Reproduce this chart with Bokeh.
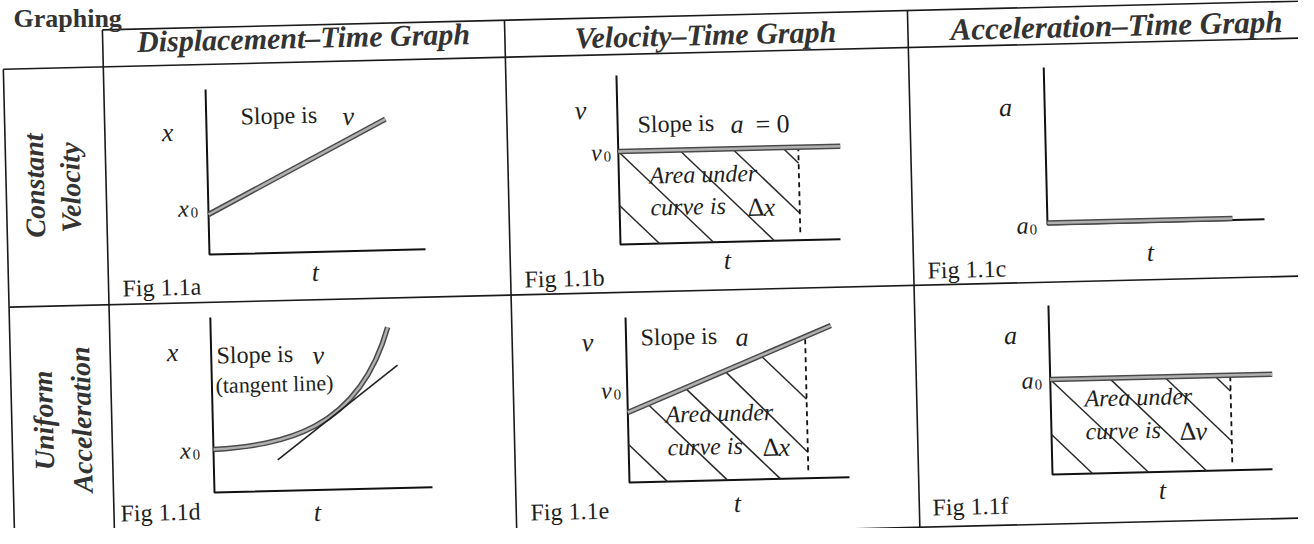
import numpy as np
from bokeh.plotting import figure
from bokeh.models import Range1d
from bokeh.core.properties import value
from bokeh.embed import file_html
from bokeh.resources import INLINE

TILT = 0.024          # the scanned page is turned slightly
SERIF = "Liberation Serif"

# ---------------- text content ----------------
page_title = "Graphing"
column_titles = ["Displacement\u2013Time Graph", "Velocity\u2013Time Graph", "Acceleration\u2013Time Graph"]
row_titles = [["Constant", "Velocity"], ["Uniform", "Acceleration"]]
fig_names = ["Fig 1.1a", "Fig 1.1b", "Fig 1.1c", "Fig 1.1d", "Fig 1.1e", "Fig 1.1f"]
y_symbols = ["x", "v", "a", "x", "v", "a"]
t_symbol = "t"
zero_sub = "0"
slope_text = "Slope is"
slope_symbols = ["v", "a", "v", "a"]          # panels a, b, d, e
tangent_text = "(tangent line)"
area_text = ["Area under", "curve is"]
area_symbols = ["x", "x", "v"]                 # panels b, e, f  (after a Delta)

# ---------------- graph data (local units: time right, value up) ----------------
axis_len_t = [216, 220, 217, 218, 220, 220]
axis_len_y = [165, 169, 157, 175, 165, 169]
value_lines = {            # [t0, v0, t1, v1]
    0: [0, 40, 179, 131],
    1: [0, 93, 222, 93],
    2: [0, 1.5, 185, 1.5],
    4: [0, 70, 205, 152],
    5: [0, 95, 222, 95],
}
curve_d = [(0, 43), (69, 46), (145, 57), (177, 161)]   # start, ctrl1, ctrl2, end
tangent_d = [64, 31, 186, 123]
dash_lines = {1: [180, 8, 93], 4: [179, 8, 142], 5: [180, 8, 95]}   # t, bottom, top
hatch = {
    1: [[0, 39, 39, 0], [0, 93, 93, 0], [61, 93, 154, 0], [114, 93, 180, 27], [164, 93, 180, 77]],
    4: [[0, 38, 38, 0], [20, 78, 98, 0], [58, 93, 151, 0], [98, 109, 179, 26], [134, 124, 179, 79]],
    5: [[0, 40, 40, 0], [0, 95, 96, 0], [59, 95, 154, 0], [114, 95, 180, 29], [164, 95, 180, 79]],
}

# ---------------- layout (page pixels) ----------------
panel_origin = [(217, 262), (628, 252), (1055, 232), (222, 500), (637, 490), (1060, 482)]
h_rules = [(28, 109, 1320), (65, 9, 1320), (303, 9, 1320), (545, 9, 1320)]   # y at x=500, from col, to x
v_rules = [(9, 65), (109, 28), (511.3, 28), (914.5, 28)]                    # x at y=0, starting rule
title_pos = (21, 11)
col_title_pos = [(311, 45), (713, 42), (1124, 33)]
col_title_size = [30, 30, 31]
row_title_pos = [[(42, 193), (78, 195)], [(51, 428), (89, 427)]]
fig_name_pos = [(130, 296), (532, 287), (935, 278), (128, 521), (538, 520), (940, 515)]
y_sym_pos = [(175, 140), (588, 118), (1013, 115), (180, 360), (595, 350), (1018, 343)]
sub_sym_pos = [(191, 216), (604, 160), (1030, 233), (193, 458), (614, 398), (1035, 388)]
t_pos = [(323, 280), (735, 268), (1158, 260), (325, 520), (745, 511), (1170, 498)]
slope_pos = [(248, 124, 350), (645, 132, 738), (224, 363, 320), (648, 345, 743)]
eq_zero_pos = (763, 132)
tangent_pos = (223, 393)
area_pos = [(657, 183, 658, 215, 755), (673, 422, 675, 455, 770), (1092, 406, 1093, 439, 1187)]

p = figure(width=1298, height=528, x_range=Range1d(8, 1306), y_range=Range1d(536, 8),
           output_backend="svg", toolbar_location=None, min_border=0)
p.xaxis.visible = False
p.yaxis.visible = False
p.xgrid.visible = False
p.ygrid.visible = False
p.outline_line_color = None
p.background_fill_color = "white"
p.border_fill_color = "white"


def T(o, u, w):
    ox, oy = o
    u = np.asarray(u, float)
    w = np.asarray(w, float)
    return ox + u - TILT * w, oy - TILT * u - w


def hy(y500, x):
    return y500 - TILT * (x - 500)


def meet(c, y500):
    x = (c + TILT * y500 + TILT * TILT * 500) / (1 + TILT * TILT)
    return x, hy(y500, x)


# table rules
for y500, vstart, xend in h_rules:
    c = [v for v in v_rules if v[0] == vstart][0][0]
    x0, y0 = meet(c, y500)
    p.line([x0, xend], [y0, hy(y500, xend)], line_color="#1a1a1a", line_width=1.6)
for c, hstart in v_rules:
    xs, ys = meet(c, [h for h in h_rules if h[0] == hstart][0][0])
    xe, ye = meet(c, h_rules[-1][0])
    p.line([xs, xe], [ys, ye], line_color="#1a1a1a", line_width=1.6)


def txt(s, x, y, size, style="normal", align="left", angle=0.0, color="#1e1e1e", base="middle"):
    p.text(x=[x], y=[y], text=[s], angle=TILT + angle, text_font=value(SERIF),
           text_font_size=f"{size}px", text_font_style=style, text_align=align,
           text_baseline=base, text_color=color)


# graphs
for i, o in enumerate(panel_origin):
    ax, ay = T(o, [0, 0, axis_len_t[i]], [axis_len_y[i], 0, 0])
    p.line(ax, ay, line_color="#111111", line_width=2)
    if i in hatch:
        for t0, v0, t1, v1 in hatch[i]:
            hx, hyy = T(o, [t0, t1], [v0, v1])
            p.line(hx, hyy, line_color="#2a2a2a", line_width=1.5)
    if i in dash_lines:
        t, b, top = dash_lines[i]
        dx, dy = T(o, [t, t], [b, top])
        p.line(dx, dy, line_color="#111111", line_width=1.8, line_dash="5 4")
    if i in value_lines:
        t0, v0, t1, v1 = value_lines[i]
        lx, ly = T(o, [t0, t1], [v0, v1])
        p.line(lx, ly, line_color="#4a4a4a", line_width=5.5)
        p.line(lx, ly, line_color="#b0b0b0", line_width=2.5)
    if i == 3:
        cx, cy = T(o, [c[0] for c in curve_d], [c[1] for c in curve_d])
        for col, wd in (("#4a4a4a", 5.5), ("#b0b0b0", 2.5)):
            p.bezier(x0=[cx[0]], y0=[cy[0]], x1=[cx[3]], y1=[cy[3]], cx0=[cx[1]], cy0=[cy[1]],
                     cx1=[cx[2]], cy1=[cy[2]], line_color=col, line_width=wd)
        tx, ty = T(o, tangent_d[0::2], tangent_d[1::2])
        p.line(tx, ty, line_color="#222222", line_width=1.6)

# texts
txt(page_title, *title_pos, 26, "bold", color="#333333", base="top", angle=-TILT)
for s, (x, y), sz in zip(column_titles, col_title_pos, col_title_size):
    txt(s, x, y, sz, "bold italic", "center", color="#333333")
for pair, poss in zip(row_titles, row_title_pos):
    for s, (x, y) in zip(pair, poss):
        txt(s, x, y, 28, "bold italic", "center", np.pi / 2, color="#333333")
for s, (x, y) in zip(fig_names, fig_name_pos):
    txt(s, x, y, 24)
for i in range(6):
    txt(y_symbols[i], *y_sym_pos[i], 26, "italic", "center")
    txt(y_symbols[i], *sub_sym_pos[i], 24, "italic", "center")
    txt(zero_sub, sub_sym_pos[i][0] + 11, sub_sym_pos[i][1] + 4, 15, "normal", "center")
    txt(t_symbol, *t_pos[i], 26, "italic", "center")
for s, (x, y, xs) in zip(slope_symbols, slope_pos):
    txt(slope_text, x, y, 24)
    txt(s, xs, y, 26, "italic")
txt("= 0", *eq_zero_pos, 26)
txt(tangent_text, *tangent_pos, 22)
for s, (x1, y1, x2, y2, xs) in zip(area_symbols, area_pos):
    txt(area_text[0], x1, y1, 24, "italic")
    txt(area_text[1], x2, y2, 24, "italic")
    txt("\u0394", xs, y2, 26)
    txt(s, xs + 16, y2, 26, "italic")

open("out.html", "w").write(file_html(p, INLINE))
